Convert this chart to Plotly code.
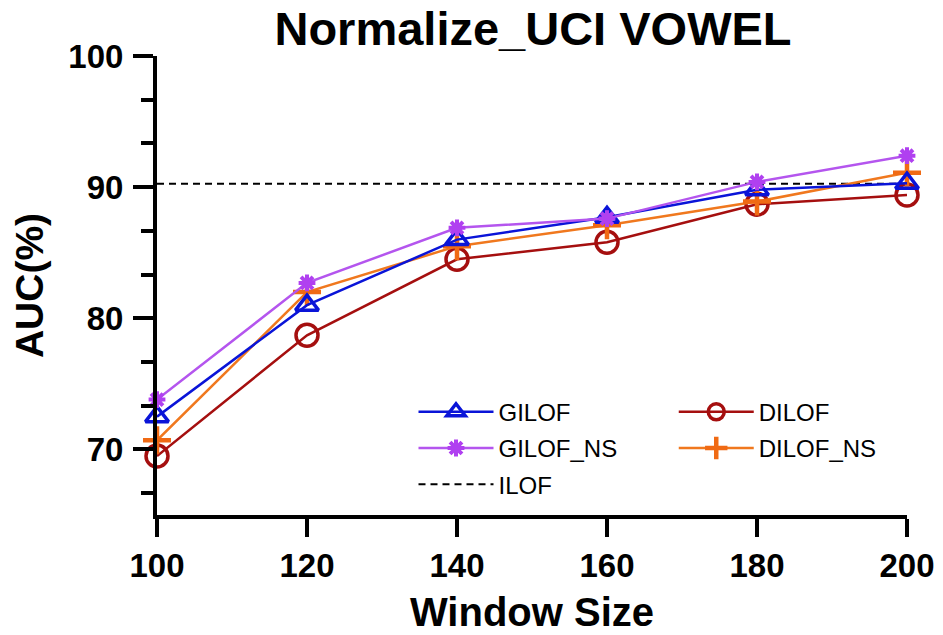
import plotly.graph_objects as go

window_size = [100, 120, 140, 160, 180, 200]
gilof = [72.5, 81.0, 86.0, 87.7, 89.8, 90.3]
gilof_ns = [73.8, 82.7, 86.9, 87.6, 90.4, 92.4]
dilof = [69.5, 78.7, 84.5, 85.8, 88.7, 89.4]
dilof_ns = [70.7, 82.0, 85.5, 87.1, 88.9, 91.1]
ilof = 90.25

y_ticks = [70, 80, 90, 100]
y_minor = [66.67, 73.33, 76.67, 83.33, 86.67, 93.33, 96.67]

font_main = "Liberation Sans, Arial, sans-serif"

fig = go.Figure()

fig.add_trace(go.Scatter(
    x=[window_size[0], window_size[-1]], y=[ilof, ilof], name="ILOF",
    legend="legend", legendgroup="g3", legendrank=3, cliponaxis=False,
    mode="lines", line=dict(color="black", width=2, dash="7px,5px"),
))
fig.add_trace(go.Scatter(
    x=window_size, y=dilof, name="DILOF", mode="lines+markers",
    legend="legend2", legendgroup="g4", legendrank=4, cliponaxis=False,
    line=dict(color="#a50f0f", width=2.5),
    marker=dict(symbol="circle-open", size=22, color="#a50f0f",
                line=dict(width=3.5, color="#a50f0f")),
))
fig.add_trace(go.Scatter(
    x=window_size, y=dilof_ns, name="DILOF_NS", mode="lines+markers",
    legend="legend2", legendgroup="g5", legendrank=5, cliponaxis=False,
    line=dict(color="#f0781e", width=2.5),
    marker=dict(symbol="cross-thin-open", size=20, color="#f06a14",
                line=dict(width=4.5, color="#f06a14")),
))
fig.add_trace(go.Scatter(
    x=window_size, y=gilof, name="GILOF", mode="lines+markers",
    legend="legend", legendgroup="g1", legendrank=1, cliponaxis=False,
    line=dict(color="#0a14d8", width=2.5),
    marker=dict(symbol="triangle-up-open", size=20, color="#0a14d8",
                line=dict(width=3.5, color="#0a14d8")),
))
fig.add_trace(go.Scatter(
    x=window_size, y=gilof_ns, name="GILOF_NS", mode="lines+markers",
    legend="legend", legendgroup="g2", legendrank=2, cliponaxis=False,
    line=dict(color="#b455ee", width=2.5),
    marker=dict(symbol="asterisk-open", size=14, color="#b040f0",
                line=dict(width=4, color="#b040f0")),
))

legend_common = dict(
    orientation="v", xanchor="left", yanchor="top", itemwidth=75,
    font=dict(size=24, family=font_main), bgcolor="rgba(0,0,0,0)",
    tracegroupgap=2, traceorder="grouped",
)

fig.update_layout(
    width=943, height=635,
    margin=dict(l=157, r=36, t=56, b=120, autoexpand=False),
    paper_bgcolor="white", plot_bgcolor="white",
    font=dict(family=font_main, color="black"),
    title=dict(text="Normalize_UCI VOWEL", x=533 / 943, xanchor="center",
               y=0.955, yanchor="middle",
               font=dict(size=47, family=font_main, weight="bold")),
    showlegend=True,
    legend=dict(x=0.342, y=0.273, **legend_common),
    legend2=dict(x=0.689, y=0.273, **legend_common),
)

fig.update_xaxes(
    range=[100, 200], tickvals=window_size, ticks="outside", ticklen=18, tickwidth=4,
    tickcolor="black", showline=True, linewidth=4, linecolor="black",
    showgrid=False, zeroline=False, automargin=False,
    tickfont=dict(size=33, family=font_main, weight="bold"),
    title=dict(text="Window Size", font=dict(size=40, family=font_main, weight="bold"),
               standoff=16),
)
fig.update_yaxes(
    range=[65, 100], tickvals=y_ticks, ticks="outside", ticklen=20, tickwidth=4,
    tickcolor="black", showline=True, linewidth=4, linecolor="black",
    showgrid=False, zeroline=False, ticklabelstandoff=3, automargin=False,
    tickfont=dict(size=33, family=font_main, weight="bold"),
    minor=dict(tickmode="array", tickvals=y_minor, ticks="outside", ticklen=12,
               tickwidth=4, tickcolor="black", showgrid=False),
    title=dict(text="AUC(%)", font=dict(size=39, family=font_main, weight="bold"),
               standoff=14),
)

fig.write_html("out.html")
